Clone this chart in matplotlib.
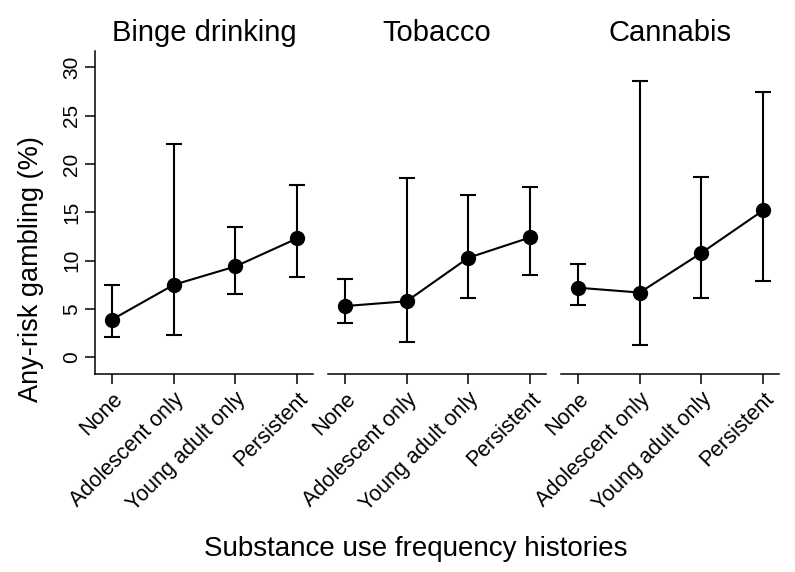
import numpy as np
import matplotlib.pyplot as plt

plt.rcParams['font.family'] = ['Liberation Sans', 'DejaVu Sans']

# Categories and panel names
categories = ['None', 'Adolescent only', 'Young adult only', 'Persistent']
panels = ['Binge drinking', 'Tobacco', 'Cannabis']

# Estimates with lower / upper confidence limits (%)
binge = [3.9, 7.5, 9.4, 12.3]
binge_lo = [2.1, 2.3, 6.5, 8.3]
binge_hi = [7.5, 22.1, 13.5, 17.8]

tobacco = [5.3, 5.8, 10.3, 12.4]
tobacco_lo = [3.5, 1.6, 6.1, 8.5]
tobacco_hi = [8.1, 18.6, 16.8, 17.6]

cannabis = [7.2, 6.7, 10.8, 15.2]
cannabis_lo = [5.4, 1.3, 6.1, 7.9]
cannabis_hi = [9.7, 28.6, 18.7, 27.5]

est = [binge, tobacco, cannabis]
lows = [binge_lo, tobacco_lo, cannabis_lo]
highs = [binge_hi, tobacco_hi, cannabis_hi]

fig = plt.figure(figsize=(7.95, 5.72), dpi=100)

W, H = 795, 572
lefts = [95.3, 328.3, 561.3]
width = 217.2
bottom = 374
top = 51

x = np.arange(len(categories))
for i in range(3):
    ax = fig.add_axes([lefts[i] / W, 1 - bottom / H, width / W, (bottom - top) / H])
    e = np.array(est[i])
    lo = np.array(lows[i])
    hi = np.array(highs[i])
    ax.errorbar(x, e, yerr=[e - lo, hi - e], fmt='-o', color='black',
                ms=10, lw=1.5, elinewidth=1.5, capsize=5.5, capthick=1.5)
    ax.set_xlim(-0.27, 3.25)
    ax.set_ylim(-1.73, 31.7)
    ax.set_xticks(x)
    ax.set_xticklabels(categories, rotation=45, ha='right', rotation_mode='anchor', fontsize=15.5)
    ax.tick_params(axis='x', length=7.5, width=1.1, pad=3)
    ax.set_title(panels[i], fontsize=21, pad=7)
    for s in ['top', 'right']:
        ax.spines[s].set_visible(False)
    ax.spines['bottom'].set_linewidth(1.1)
    if i == 0:
        ax.set_yticks([0, 5, 10, 15, 20, 25, 30])
        ax.tick_params(axis='y', length=7, width=1.1, labelsize=15, labelrotation=90, pad=3)
        for lab in ax.get_yticklabels():
            lab.set_va('center')
        ax.spines['left'].set_linewidth(1.1)
    else:
        ax.spines['left'].set_visible(False)
        ax.set_yticks([])

# y label sits lower than the axes centre in the original
fig.text(31 / W, 1 - 269 / H, 'Any-risk gambling (%)', fontsize=19.5,
         rotation=90, ha='center', va='center')
fig.text(415.5 / W, 1 - 549 / H, 'Substance use frequency histories', fontsize=20,
         ha='center', va='center')

plt.savefig('out.png', dpi=100)
